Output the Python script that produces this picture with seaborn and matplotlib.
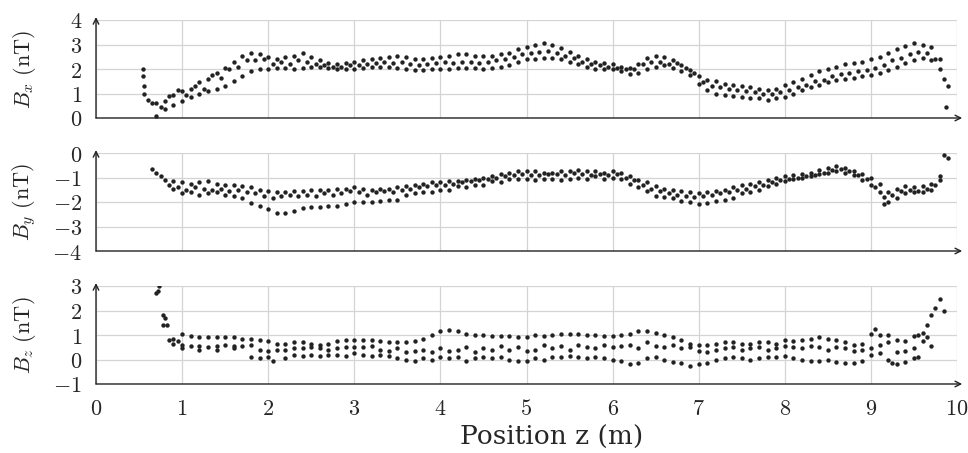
import numpy as np
import pandas as pd
import seaborn as sns
import matplotlib.pyplot as plt

# (z [m], B [nT]) pairs, one list per sweep
bx_start = [(0.55, 2.0), (0.55, 1.7), (0.56, 1.3), (0.56, 1.0)]
bx_a = [(0.6, 0.75), (0.7, 0.6), (0.8, 0.7), (0.9, 0.95), (1.0, 1.1), (1.1, 1.2), (1.2, 1.45), (1.3, 1.6),
        (1.4, 1.85), (1.5, 2.05), (1.6, 2.3), (1.7, 2.55), (1.8, 2.65), (1.9, 2.6), (2.0, 2.5), (2.1, 2.4),
        (2.2, 2.5), (2.3, 2.55), (2.4, 2.65), (2.5, 2.5), (2.6, 2.35), (2.7, 2.25), (2.8, 2.2), (2.9, 2.25),
        (3.0, 2.3), (3.1, 2.35), (3.2, 2.4), (3.3, 2.45), (3.4, 2.5), (3.5, 2.55), (3.6, 2.5), (3.7, 2.4),
        (3.8, 2.4), (3.9, 2.45), (4.0, 2.5), (4.1, 2.55), (4.2, 2.6), (4.3, 2.6), (4.4, 2.55), (4.5, 2.55),
        (4.6, 2.55), (4.7, 2.6), (4.8, 2.65), (4.9, 2.8), (5.0, 2.9), (5.1, 3.0), (5.2, 3.05), (5.3, 3.0),
        (5.4, 2.85), (5.5, 2.7), (5.6, 2.55), (5.7, 2.4), (5.8, 2.3), (5.9, 2.25), (6.0, 2.2), (6.1, 2.1),
        (6.2, 2.05), (6.3, 2.2), (6.4, 2.45), (6.5, 2.55), (6.6, 2.5), (6.7, 2.35), (6.8, 2.15), (6.9, 1.95),
        (7.0, 1.7), (7.1, 1.55), (7.2, 1.5), (7.3, 1.4), (7.4, 1.35), (7.5, 1.3), (7.6, 1.25), (7.7, 1.2),
        (7.8, 1.15), (7.9, 1.2), (8.0, 1.35), (8.1, 1.45), (8.2, 1.6), (8.3, 1.75), (8.4, 1.9), (8.5, 2.0),
        (8.6, 2.1), (8.7, 2.2), (8.8, 2.25), (8.9, 2.3), (9.0, 2.4), (9.1, 2.5), (9.2, 2.65), (9.3, 2.8),
        (9.4, 2.95), (9.5, 3.05), (9.6, 3.0), (9.7, 2.9), (9.8, 2.4), (9.9, 1.3)]
bx_b = [(0.7, 0.1), (0.8, 0.35), (0.9, 0.55), (1.0, 0.7), (1.1, 0.85), (1.2, 1.0), (1.3, 1.1), (1.4, 1.2),
        (1.5, 1.3), (1.6, 1.5), (1.7, 1.7), (1.8, 1.9), (1.9, 2.0), (2.0, 2.0), (2.1, 2.05), (2.2, 2.05),
        (2.3, 2.0), (2.4, 2.05), (2.5, 2.1), (2.6, 2.1), (2.7, 2.05), (2.8, 2.0), (2.9, 2.0), (3.0, 2.0),
        (3.1, 2.05), (3.2, 2.1), (3.3, 2.1), (3.4, 2.1), (3.5, 2.05), (3.6, 2.0), (3.7, 1.95), (3.8, 1.95),
        (3.9, 2.0), (4.0, 2.0), (4.1, 2.0), (4.2, 2.05), (4.3, 2.05), (4.4, 2.05), (4.5, 2.0), (4.6, 2.05),
        (4.7, 2.1), (4.8, 2.15), (4.9, 2.3), (5.0, 2.4), (5.1, 2.4), (5.2, 2.45), (5.3, 2.45), (5.4, 2.4),
        (5.5, 2.3), (5.6, 2.2), (5.7, 2.1), (5.8, 2.0), (5.9, 2.0), (6.0, 2.0), (6.1, 1.9), (6.2, 1.8),
        (6.3, 1.85), (6.4, 2.0), (6.5, 2.1), (6.6, 2.15), (6.7, 2.05), (6.8, 1.9), (6.9, 1.75), (7.0, 1.4),
        (7.1, 1.15), (7.2, 1.0), (7.3, 0.95), (7.4, 0.9), (7.5, 0.85), (7.6, 0.8), (7.7, 0.8), (7.8, 0.75),
        (7.9, 0.8), (8.0, 0.85), (8.1, 1.0), (8.2, 1.15), (8.3, 1.25), (8.4, 1.35), (8.5, 1.45), (8.6, 1.55),
        (8.7, 1.6), (8.8, 1.65), (8.9, 1.7), (9.0, 1.75), (9.1, 1.85), (9.2, 1.95), (9.3, 2.1), (9.4, 2.25),
        (9.5, 2.35), (9.6, 2.45), (9.7, 2.35), (9.8, 2.0), (9.87, 0.45)]
bx_c = [(0.65, 0.6), (0.75, 0.45), (0.85, 0.9), (0.95, 1.15), (1.05, 0.95), (1.15, 1.3), (1.25, 1.2),
        (1.35, 1.75), (1.45, 1.65), (1.55, 2.0), (1.65, 2.1), (1.75, 2.35), (1.85, 2.35), (1.95, 2.4),
        (2.05, 2.2), (2.15, 2.3), (2.25, 2.2), (2.35, 2.35), (2.45, 2.3), (2.55, 2.2), (2.65, 2.15), (2.75, 2.1),
        (2.85, 2.1), (2.95, 2.15), (3.05, 2.15), (3.15, 2.2), (3.25, 2.25), (3.35, 2.3), (3.45, 2.25),
        (3.55, 2.3), (3.65, 2.2), (3.75, 2.15), (3.85, 2.2), (3.95, 2.25), (4.05, 2.3), (4.15, 2.25),
        (4.25, 2.3), (4.35, 2.3), (4.45, 2.25), (4.55, 2.3), (4.65, 2.35), (4.75, 2.4), (4.85, 2.5), (4.95, 2.6),
        (5.05, 2.65), (5.15, 2.7), (5.25, 2.75), (5.35, 2.65), (5.45, 2.55), (5.55, 2.45), (5.65, 2.3),
        (5.75, 2.2), (5.85, 2.15), (5.95, 2.1), (6.05, 2.05), (6.15, 2.0), (6.25, 2.0), (6.35, 2.2), (6.45, 2.3),
        (6.55, 2.3), (6.65, 2.2), (6.75, 2.25), (6.85, 2.05), (6.95, 1.85), (7.05, 1.45), (7.15, 1.3),
        (7.25, 1.25), (7.35, 1.2), (7.45, 1.15), (7.55, 1.1), (7.65, 1.05), (7.75, 1.0), (7.85, 1.0),
        (7.95, 1.05), (8.05, 1.15), (8.15, 1.25), (8.25, 1.35), (8.35, 1.5), (8.45, 1.55), (8.55, 1.7),
        (8.65, 1.8), (8.75, 1.85), (8.85, 1.9), (8.95, 1.95), (9.05, 2.05), (9.15, 2.15), (9.25, 2.35),
        (9.35, 2.45), (9.45, 2.6), (9.55, 2.7), (9.65, 2.65), (9.75, 2.4), (9.85, 1.6)]

by_a = [(0.65, -0.65), (0.7, -0.8), (0.75, -0.95), (0.8, -1.1), (0.9, -1.15), (1.0, -1.2), (1.1, -1.25),
        (1.2, -1.2), (1.3, -1.15), (1.4, -1.25), (1.5, -1.3), (1.6, -1.3), (1.7, -1.35), (1.8, -1.4),
        (1.9, -1.5), (2.0, -1.55), (2.1, -1.6), (2.2, -1.6), (2.3, -1.55), (2.4, -1.55), (2.5, -1.5),
        (2.6, -1.5), (2.7, -1.5), (2.8, -1.45), (2.9, -1.45), (3.0, -1.4), (3.1, -1.45), (3.2, -1.5),
        (3.3, -1.45), (3.4, -1.45), (3.5, -1.4), (3.6, -1.35), (3.7, -1.3), (3.8, -1.25), (3.9, -1.2),
        (4.0, -1.2), (4.1, -1.15), (4.2, -1.15), (4.3, -1.1), (4.4, -1.05), (4.5, -1.0), (4.6, -0.95),
        (4.7, -0.85), (4.8, -0.8), (4.9, -0.75), (5.0, -0.75), (5.1, -0.75), (5.2, -0.8), (5.3, -0.8),
        (5.4, -0.75), (5.5, -0.75), (5.6, -0.7), (5.7, -0.75), (5.8, -0.75), (5.9, -0.8), (6.0, -0.75),
        (6.1, -0.8), (6.2, -0.95), (6.3, -1.1), (6.4, -1.2), (6.5, -1.35), (6.6, -1.45), (6.7, -1.5),
        (6.8, -1.55), (6.9, -1.6), (7.0, -1.65), (7.1, -1.6), (7.2, -1.55), (7.3, -1.5), (7.4, -1.4),
        (7.5, -1.3), (7.6, -1.25), (7.7, -1.2), (7.8, -1.1), (7.9, -1.0), (8.0, -0.95), (8.1, -0.9),
        (8.2, -0.85), (8.3, -0.8), (8.4, -0.7), (8.5, -0.6), (8.6, -0.55), (8.7, -0.6), (8.8, -0.75),
        (8.9, -0.85), (9.0, -1.0), (9.1, -1.25), (9.2, -1.6), (9.3, -1.45), (9.4, -1.35), (9.5, -1.4),
        (9.6, -1.35), (9.7, -1.25), (9.8, -0.95), (9.85, -0.1)]
by_b = [(0.85, -1.3), (0.95, -1.4), (1.05, -1.5), (1.15, -1.4), (1.25, -1.45), (1.35, -1.5), (1.45, -1.45),
        (1.55, -1.55), (1.65, -1.5), (1.75, -1.6), (1.85, -1.65), (1.95, -1.75), (2.05, -1.85), (2.15, -1.75),
        (2.25, -1.7), (2.35, -1.75), (2.45, -1.7), (2.55, -1.75), (2.65, -1.65), (2.75, -1.7), (2.85, -1.65),
        (2.95, -1.55), (3.05, -1.6), (3.15, -1.7), (3.25, -1.6), (3.35, -1.55), (3.45, -1.6), (3.55, -1.5),
        (3.65, -1.45), (3.75, -1.4), (3.85, -1.35), (3.95, -1.3), (4.05, -1.3), (4.15, -1.25), (4.25, -1.2),
        (4.35, -1.15), (4.45, -1.1), (4.55, -1.05), (4.65, -1.0), (4.75, -0.95), (4.85, -0.9), (4.95, -0.85),
        (5.05, -0.9), (5.15, -0.9), (5.25, -0.85), (5.35, -0.85), (5.45, -0.9), (5.55, -0.8), (5.65, -0.85),
        (5.75, -0.9), (5.85, -0.85), (5.95, -0.9), (6.05, -0.85), (6.15, -1.0), (6.25, -1.1), (6.35, -1.3),
        (6.45, -1.45), (6.55, -1.55), (6.65, -1.65), (6.75, -1.7), (6.85, -1.75), (6.95, -1.8), (7.05, -1.75),
        (7.15, -1.7), (7.25, -1.65), (7.35, -1.6), (7.45, -1.5), (7.55, -1.45), (7.65, -1.35), (7.75, -1.3),
        (7.85, -1.2), (7.95, -1.1), (8.05, -1.05), (8.15, -1.0), (8.25, -0.95), (8.35, -0.9), (8.45, -0.8),
        (8.55, -0.7), (8.65, -0.65), (8.75, -0.75), (8.85, -0.9), (8.95, -1.05), (9.05, -1.4), (9.15, -1.8),
        (9.25, -1.7), (9.35, -1.55), (9.45, -1.5), (9.55, -1.55), (9.65, -1.45), (9.75, -1.3), (9.9, -0.2)]
by_c = [(0.9, -1.45), (1.0, -1.65), (1.1, -1.6), (1.2, -1.7), (1.3, -1.65), (1.4, -1.6), (1.5, -1.7),
        (1.6, -1.75), (1.7, -1.85), (1.8, -2.05), (1.9, -2.15), (2.0, -2.3), (2.1, -2.45), (2.2, -2.45),
        (2.3, -2.35), (2.4, -2.25), (2.5, -2.2), (2.6, -2.2), (2.7, -2.15), (2.8, -2.15), (2.9, -2.1),
        (3.0, -2.0), (3.1, -2.0), (3.2, -2.0), (3.3, -1.95), (3.4, -1.9), (3.5, -1.9), (3.6, -1.7),
        (3.7, -1.65), (3.8, -1.6), (3.9, -1.6), (4.0, -1.5), (4.1, -1.5), (4.2, -1.35), (4.3, -1.4),
        (4.4, -1.3), (4.5, -1.3), (4.6, -1.15), (4.7, -1.2), (4.8, -1.05), (4.9, -1.05), (5.0, -1.05),
        (5.1, -1.1), (5.2, -1.05), (5.3, -1.05), (5.4, -1.1), (5.5, -1.05), (5.6, -1.0), (5.7, -1.05),
        (5.8, -0.95), (5.9, -1.05), (6.0, -1.0), (6.1, -1.05), (6.2, -1.25), (6.3, -1.4), (6.4, -1.55),
        (6.5, -1.75), (6.6, -1.8), (6.7, -1.85), (6.8, -1.95), (6.9, -2.0), (7.0, -2.1), (7.1, -2.05),
        (7.2, -1.95), (7.3, -1.9), (7.4, -1.85), (7.5, -1.65), (7.6, -1.6), (7.7, -1.5), (7.8, -1.35),
        (7.9, -1.25), (8.0, -1.15), (8.1, -1.05), (8.2, -1.0), (8.3, -0.95), (8.4, -0.85), (8.5, -0.8),
        (8.6, -0.75), (8.7, -0.8), (8.8, -0.9), (8.9, -1.1), (9.0, -1.3), (9.1, -1.6), (9.15, -2.1),
        (9.2, -2.0), (9.3, -1.85), (9.4, -1.65), (9.5, -1.6), (9.6, -1.6), (9.7, -1.5), (9.8, -1.1)]

bz_start = [(0.7, 2.7), (0.72, 2.8), (0.73, 3.0), (0.78, 1.8), (0.8, 1.7), (0.78, 1.4), (0.82, 1.4)]
bz_a = [(0.85, 0.8), (0.9, 0.85), (0.95, 0.75), (1.0, 1.05), (1.1, 0.95), (1.2, 0.9), (1.3, 0.9), (1.4, 0.9),
        (1.5, 0.9), (1.6, 0.9), (1.7, 0.85), (1.8, 0.85), (1.9, 0.8), (2.0, 0.75), (2.1, 0.65), (2.2, 0.65),
        (2.3, 0.7), (2.4, 0.7), (2.5, 0.65), (2.6, 0.6), (2.7, 0.65), (2.8, 0.75), (2.9, 0.8), (3.0, 0.8),
        (3.1, 0.8), (3.2, 0.8), (3.3, 0.75), (3.4, 0.7), (3.5, 0.7), (3.6, 0.7), (3.7, 0.75), (3.8, 0.85),
        (3.9, 1.0), (4.0, 1.15), (4.1, 1.2), (4.2, 1.15), (4.3, 1.05), (4.4, 1.0), (4.5, 1.0), (4.6, 0.95),
        (4.7, 0.95), (4.8, 0.95), (4.9, 0.9), (5.0, 0.9), (5.1, 1.0), (5.2, 0.95), (5.3, 1.0), (5.4, 1.05),
        (5.5, 1.05), (5.6, 1.05), (5.7, 1.0), (5.8, 1.0), (5.9, 0.95), (6.0, 0.95), (6.1, 1.0), (6.2, 1.05),
        (6.3, 1.15), (6.4, 1.15), (6.5, 1.1), (6.6, 1.0), (6.7, 0.9), (6.8, 0.8), (6.9, 0.65), (7.0, 0.6),
        (7.1, 0.6), (7.2, 0.65), (7.3, 0.7), (7.4, 0.7), (7.5, 0.65), (7.6, 0.65), (7.7, 0.7), (7.8, 0.7),
        (7.9, 0.65), (8.0, 0.8), (8.1, 0.75), (8.2, 0.8), (8.3, 0.85), (8.4, 0.9), (8.5, 0.85), (8.6, 0.8),
        (8.7, 0.7), (8.8, 0.6), (8.9, 0.65), (9.0, 1.05), (9.05, 1.25), (9.1, 1.0), (9.2, 1.0), (9.3, 0.8),
        (9.4, 0.75), (9.5, 0.95), (9.55, 1.0), (9.6, 1.1), (9.65, 1.4), (9.7, 1.8), (9.75, 2.1), (9.8, 2.45),
        (9.85, 2.0)]
bz_b = [(0.9, 0.65), (1.0, 0.6), (1.1, 0.55), (1.2, 0.55), (1.3, 0.5), (1.4, 0.55), (1.5, 0.6), (1.6, 0.55),
        (1.7, 0.55), (1.8, 0.6), (1.9, 0.4), (2.0, 0.35), (2.1, 0.4), (2.2, 0.4), (2.3, 0.45), (2.4, 0.45),
        (2.5, 0.5), (2.6, 0.45), (2.7, 0.4), (2.8, 0.45), (2.9, 0.5), (3.0, 0.5), (3.1, 0.5), (3.2, 0.55),
        (3.3, 0.4), (3.4, 0.35), (3.5, 0.45), (3.6, 0.3), (3.7, 0.35), (3.8, 0.4), (3.9, 0.3), (4.0, 0.45),
        (4.1, 0.35), (4.2, 0.4), (4.3, 0.5), (4.4, 0.3), (4.5, 0.45), (4.6, 0.4), (4.7, 0.55), (4.8, 0.4),
        (4.9, 0.5), (5.0, 0.35), (5.1, 0.4), (5.2, 0.6), (5.3, 0.45), (5.4, 0.55), (5.5, 0.4), (5.6, 0.6),
        (5.7, 0.5), (5.8, 0.45), (5.9, 0.6), (6.0, 0.5), (6.1, 0.55), (6.2, 0.6), (6.3, 0.45), (6.4, 0.7),
        (6.5, 0.55), (6.6, 0.5), (6.7, 0.6), (6.8, 0.45), (6.9, 0.5), (7.0, 0.35), (7.1, 0.3), (7.2, 0.4),
        (7.3, 0.45), (7.4, 0.5), (7.5, 0.4), (7.6, 0.45), (7.7, 0.5), (7.8, 0.4), (7.9, 0.45), (8.0, 0.55),
        (8.1, 0.5), (8.2, 0.45), (8.3, 0.55), (8.4, 0.5), (8.5, 0.4), (8.6, 0.5), (8.7, 0.45), (8.8, 0.35),
        (8.9, 0.4), (9.0, 0.45), (9.1, 0.6), (9.2, 0.7), (9.3, 0.3), (9.4, 0.35), (9.5, 0.45), (9.6, 0.75),
        (9.65, 0.9), (9.7, 0.55)]
bz_c = [(1.0, 0.45), (1.2, 0.4), (1.4, 0.4), (1.6, 0.45), (1.8, 0.1), (1.9, 0.05), (2.0, 0.1), (2.05, -0.05),
        (2.2, 0.05), (2.3, 0.2), (2.4, 0.15), (2.5, 0.2), (2.6, 0.15), (2.7, 0.2), (2.8, 0.2), (2.9, 0.15),
        (3.0, 0.25), (3.1, 0.2), (3.2, 0.15), (3.3, 0.2), (3.4, 0.15), (3.5, 0.05), (3.6, 0.0), (3.7, -0.05),
        (3.8, 0.05), (3.9, 0.0), (4.0, 0.1), (4.1, 0.05), (4.2, 0.1), (4.3, -0.05), (4.4, 0.05), (4.5, 0.1),
        (4.6, 0.05), (4.7, 0.1), (4.8, 0.0), (4.9, -0.05), (5.0, -0.05), (5.1, 0.05), (5.2, 0.0), (5.3, 0.1),
        (5.4, 0.1), (5.5, 0.15), (5.6, 0.1), (5.7, 0.05), (5.8, 0.1), (5.9, 0.05), (6.0, 0.0), (6.1, -0.05),
        (6.2, -0.2), (6.3, -0.15), (6.4, 0.05), (6.5, 0.1), (6.6, 0.0), (6.7, -0.1), (6.8, -0.15), (6.9, -0.25),
        (7.0, -0.2), (7.1, -0.15), (7.2, 0.0), (7.3, 0.05), (7.4, 0.1), (7.5, 0.05), (7.6, 0.0), (7.7, 0.05),
        (7.8, 0.1), (7.9, 0.1), (8.0, 0.15), (8.1, 0.05), (8.2, 0.0), (8.3, -0.05), (8.4, -0.05), (8.5, 0.0),
        (8.6, -0.1), (8.7, -0.15), (8.8, -0.15), (8.9, -0.05), (9.0, 0.2), (9.1, 0.25), (9.2, 0.0),
        (9.25, -0.15), (9.3, -0.2), (9.4, -0.1), (9.5, 0.05), (9.55, 0.1)]

panels = [
    (bx_start + bx_a + bx_b + bx_c, 'x', (0, 4)),
    (by_a + by_b + by_c, 'y', (-4, 0)),
    (bz_start + bz_a + bz_b + bz_c, 'z', (-1, 3)),
]

sns.set_style('white')
plt.rcParams['mathtext.fontset'] = 'cm'
plt.rcParams['font.family'] = ['DejaVu Serif']

fig = plt.figure(figsize=(9.68, 4.53), dpi=100)
W, H = 968, 453
left, right = 96, 957
tops = [20, 153, 286]
height = 98
TICK_FS = 16

for i, (pts, comp, ylim) in enumerate(panels):
    top = tops[i]
    ax = fig.add_axes([left / W, 1 - (top + height) / H, (right - left) / W, height / H])
    df = pd.DataFrame(pts, columns=['z', 'B'])
    sns.scatterplot(data=df, x='z', y='B', ax=ax, s=10, color='#222222', linewidth=0, zorder=3)
    ax.set_xlim(0, 10)
    ax.set_ylim(*ylim)
    yt = list(range(ylim[0], ylim[1] + 1))
    ax.set_xticks(range(0, 11))
    ax.set_yticks(yt)
    ax.set_yticklabels([rf'${v}$' for v in yt], fontsize=TICK_FS)
    ax.grid(True, color='#d4d4d4', lw=0.9)
    for s in ax.spines.values():
        s.set_visible(False)
    ax.tick_params(axis='both', direction='inout', length=6, width=0.8, color='#444444', pad=7)
    if i < 2:
        ax.tick_params(axis='x', labelbottom=False)
    else:
        ax.set_xticklabels([rf'${v}$' for v in range(0, 11)], fontsize=TICK_FS)
        ax.tick_params(axis='x', pad=7)
    ax.set_xlabel('')
    ax.set_ylabel('')
    # axis lines with arrow heads
    ax.annotate('', xy=(1.006, 0), xytext=(0, 0), xycoords='axes fraction',
                arrowprops=dict(arrowstyle='->', lw=1.0, color='#222222', shrinkA=0, shrinkB=0),
                annotation_clip=False)
    ax.annotate('', xy=(0, 1.03), xytext=(0, 0), xycoords='axes fraction',
                arrowprops=dict(arrowstyle='->', lw=1.0, color='#222222', shrinkA=0, shrinkB=0),
                annotation_clip=False)
    fig.text(24 / W, 1 - (top + height / 2) / H, rf'$B_{comp}\ \mathrm{{(nT)}}$',
             rotation=90, ha='center', va='center', fontsize=16)

fig.text(552 / W, 1 - 437 / H, 'Position z (m)', ha='center', va='center', fontsize=19)

fig.savefig('out.png', dpi=100)
